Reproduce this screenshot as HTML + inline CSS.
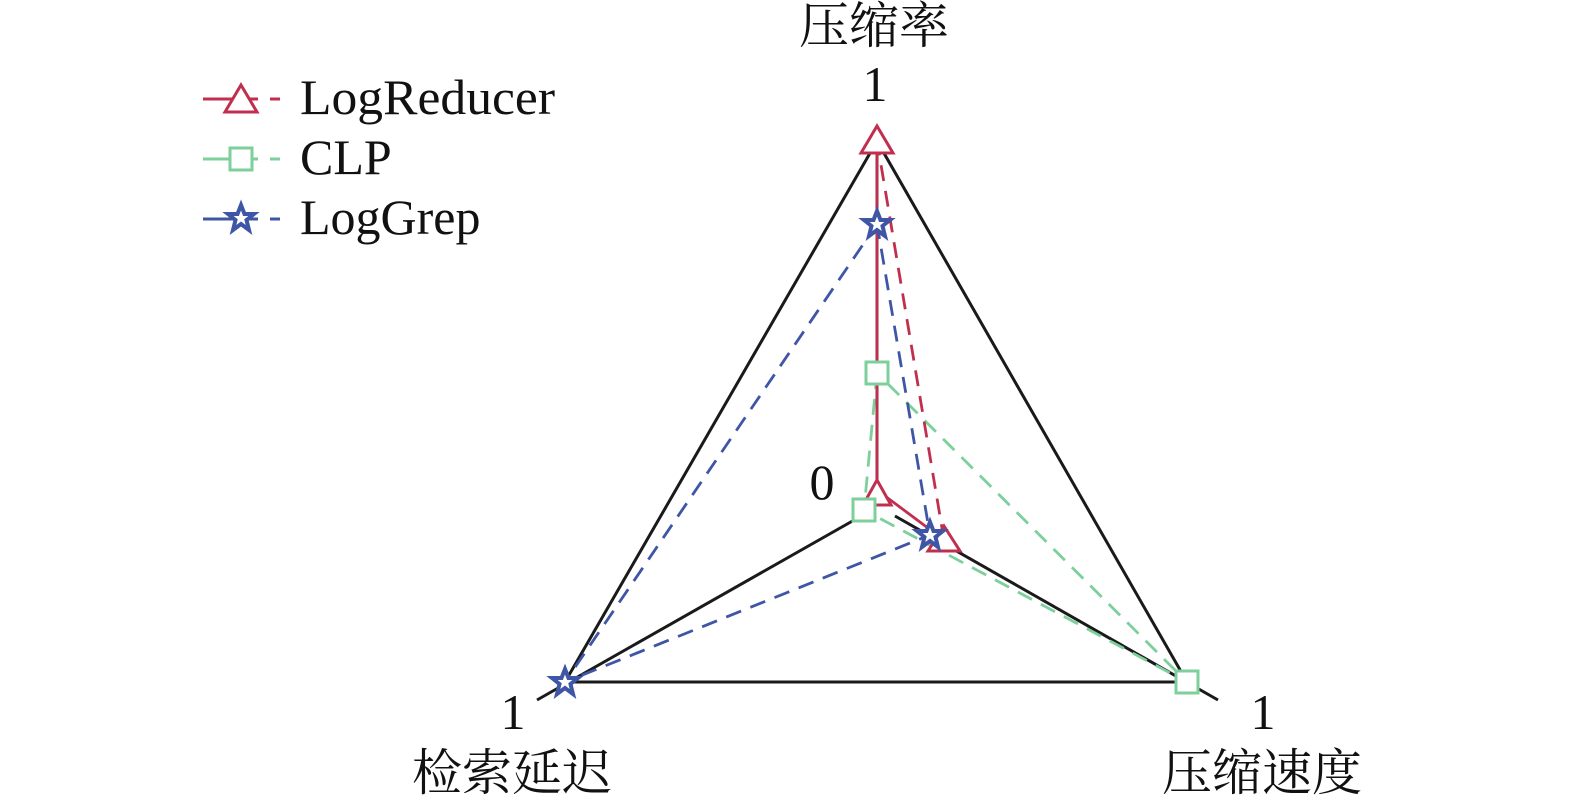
<!DOCTYPE html>
<html><head><meta charset="utf-8"><style>
html,body{margin:0;padding:0;background:#fff;}
svg{display:block;}
text{font-family:"Liberation Serif","Noto Serif CJK SC",serif;fill:#111;}
</style></head><body>
<svg width="1575" height="801" viewBox="0 0 1575 801" xmlns="http://www.w3.org/2000/svg">
<g stroke="#1a1a1a" stroke-width="3" fill="none">
<polygon points="877,141 565,682 1187,682"/>
<line x1="877" y1="141" x2="877" y2="486"/>
<line x1="537" y1="700" x2="856" y2="519"/>
<line x1="1218" y1="700" x2="895" y2="516"/>
</g>
<g stroke="#7dcf9c" stroke-width="2.8" fill="none" stroke-dasharray="16,10">
<polygon points="877,373 864,510 1187,682"/>
</g>
<g stroke="#c0304e" stroke-width="2.8" fill="none">
<polyline points="877,141 877,490 944,540"/>
<line x1="944" y1="540" x2="877" y2="141" stroke-dasharray="16,10"/>
</g>
<g stroke="#3f55a5" stroke-width="2.8" fill="none" stroke-dasharray="16,10">
<polygon points="877,224 565,682 930,535"/>
</g>
<g fill="#fff" stroke="#c0304e" stroke-width="3">
<polygon points="877,126 893,153 861,153"/>
<polygon points="877,480 891,505 863,505"/>
<polygon points="944,526 960,551 928,551"/>
</g>
<g fill="#fff" stroke="#7dcf9c" stroke-width="3">
<rect x="866" y="362" width="22" height="22"/>
<rect x="853" y="499" width="22" height="22"/>
<rect x="1176" y="671" width="22" height="22"/>
</g>
<defs><polygon id="st" points="0,-13 3.5,-4 13,-4 5.5,2 8,12 0,6 -8,12 -5.5,2 -13,-4 -3.5,-4" /></defs>
<g fill="#fff" stroke="#3f55a5" stroke-width="4">
<use href="#st" x="877" y="224"/>
<use href="#st" x="565" y="682"/>
<use href="#st" x="930" y="535"/>
</g>
<g stroke-width="3" fill="#fff">
<line x1="203" y1="99" x2="258" y2="99" stroke="#c0304e"/>
<line x1="270" y1="99" x2="280" y2="99" stroke="#c0304e"/>
<polygon points="241,85 257,112 225,112" stroke="#c0304e"/>
<line x1="203" y1="159" x2="258" y2="159" stroke="#7dcf9c"/>
<line x1="270" y1="159" x2="280" y2="159" stroke="#7dcf9c"/>
<rect x="230" y="148" width="22" height="22" stroke="#7dcf9c"/>
<line x1="203" y1="219" x2="258" y2="219" stroke="#3f55a5"/>
<line x1="270" y1="219" x2="280" y2="219" stroke="#3f55a5"/>
<use href="#st" x="241" y="218" stroke="#3f55a5" stroke-width="4"/>
</g>
<g font-size="50">
<text x="300" y="114" textLength="255" lengthAdjust="spacingAndGlyphs">LogReducer</text>
<text x="300" y="174">CLP</text>
<text x="300" y="234">LogGrep</text>
<text x="875" y="101" text-anchor="middle">1</text>
<text x="822" y="499" text-anchor="middle">0</text>
<text x="513" y="729" text-anchor="middle">1</text>
<text x="1263" y="729" text-anchor="middle">1</text>
</g>
<g font-size="50">
<text x="874" y="43" text-anchor="middle">压缩率</text>
<text x="512" y="790" text-anchor="middle">检索延迟</text>
<text x="1262" y="790" text-anchor="middle">压缩速度</text>
</g>
</svg>
</body></html>
